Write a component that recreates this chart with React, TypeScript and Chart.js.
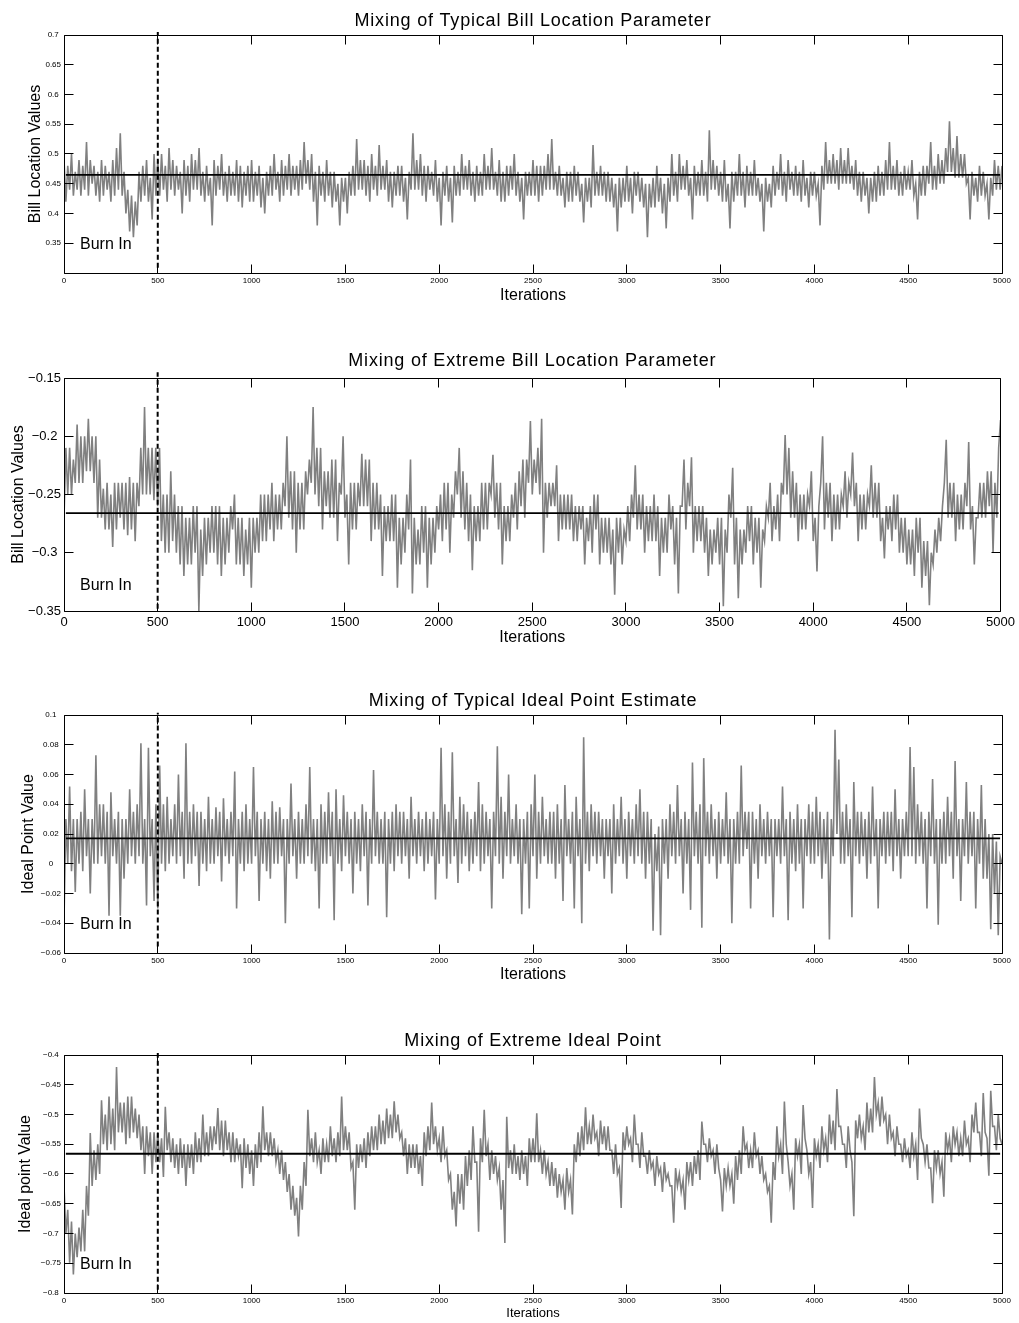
import React, { useEffect, useRef } from "react";
import { Chart, registerables } from "chart.js";

Chart.register(...registerables);

const FONT = '"Liberation Sans", Arial, Helvetica, sans-serif';
Chart.defaults.font.family = FONT;
Chart.defaults.color = "#000";

// ---------------- DATA ----------------
const ITER_STEP = 10; // iterations between stored samples
const X_TICKS = [0, 500, 1000, 1500, 2000, 2500, 3000, 3500, 4000, 4500, 5000];
const BURN_IN = 500;
const MEAN_SPAN = [10, 4990];

const TITLES = [
  "Mixing of Typical Bill Location Parameter",
  "Mixing of Extreme Bill Location Parameter",
  "Mixing of Typical Ideal Point Estimate",
  "Mixing of Extreme Ideal Point",
];
const Y_LABELS = ["Bill Location Values", "Bill Location Values", "Ideal Point Value", "Ideal point Value"];
const X_LABEL = "Iterations";
const BURN_LABEL = "Burn In";

const typicalBill = [
  0.49, 0.42, 0.48, 0.44, 0.50, 0.43, 0.47, 0.44, 0.49, 0.43,
  0.48, 0.44, 0.52, 0.43, 0.49, 0.45, 0.48, 0.43, 0.47, 0.42,
  0.49, 0.43, 0.48, 0.44, 0.47, 0.42, 0.49, 0.43, 0.51, 0.44,
  0.535, 0.43, 0.47, 0.40, 0.44, 0.37, 0.43, 0.36, 0.42, 0.38,
  0.47, 0.42, 0.48, 0.43, 0.49, 0.42, 0.46, 0.39, 0.50, 0.43,
  0.49, 0.43, 0.50, 0.44, 0.48, 0.42, 0.51, 0.44, 0.49, 0.43,
  0.48, 0.44, 0.47, 0.40, 0.49, 0.43, 0.48, 0.42, 0.50, 0.44,
  0.49, 0.44, 0.51, 0.43, 0.47, 0.42, 0.48, 0.43, 0.46, 0.38,
  0.49, 0.43, 0.48, 0.44, 0.50, 0.43, 0.47, 0.42, 0.48, 0.43,
  0.47, 0.43, 0.49, 0.42, 0.48, 0.41, 0.47, 0.43, 0.48, 0.42,
  0.49, 0.42, 0.47, 0.43, 0.48, 0.41, 0.46, 0.40, 0.47, 0.43,
  0.48, 0.43, 0.50, 0.44, 0.47, 0.42, 0.49, 0.43, 0.48, 0.44,
  0.50, 0.43, 0.48, 0.44, 0.48, 0.43, 0.49, 0.44, 0.52, 0.45,
  0.49, 0.44, 0.50, 0.42, 0.47, 0.38, 0.48, 0.43, 0.47, 0.42,
  0.49, 0.43, 0.47, 0.41, 0.47, 0.42, 0.45, 0.38, 0.46, 0.42,
  0.46, 0.40, 0.47, 0.43, 0.48, 0.43, 0.525, 0.44, 0.49, 0.44,
  0.49, 0.43, 0.48, 0.42, 0.50, 0.44, 0.48, 0.43, 0.515, 0.44,
  0.48, 0.44, 0.49, 0.42, 0.47, 0.41, 0.47, 0.43, 0.48, 0.43,
  0.48, 0.42, 0.46, 0.39, 0.47, 0.44, 0.535, 0.44, 0.49, 0.44,
  0.50, 0.43, 0.48, 0.42, 0.48, 0.44, 0.47, 0.43, 0.49, 0.42,
  0.46, 0.38, 0.47, 0.43, 0.48, 0.42, 0.46, 0.385, 0.48, 0.43,
  0.47, 0.43, 0.50, 0.44, 0.48, 0.44, 0.49, 0.43, 0.47, 0.42,
  0.48, 0.43, 0.47, 0.43, 0.50, 0.44, 0.48, 0.44, 0.51, 0.44,
  0.47, 0.43, 0.49, 0.42, 0.47, 0.42, 0.48, 0.43, 0.48, 0.44,
  0.50, 0.43, 0.47, 0.42, 0.46, 0.39, 0.47, 0.43, 0.47, 0.43,
  0.49, 0.43, 0.48, 0.42, 0.48, 0.43, 0.48, 0.44, 0.50, 0.44,
  0.525, 0.44, 0.47, 0.43, 0.48, 0.43, 0.46, 0.41, 0.47, 0.42,
  0.47, 0.42, 0.48, 0.43, 0.47, 0.42, 0.45, 0.385, 0.46, 0.42,
  0.46, 0.41, 0.515, 0.43, 0.47, 0.43, 0.48, 0.43, 0.47, 0.42,
  0.47, 0.42, 0.46, 0.41, 0.45, 0.37, 0.46, 0.41, 0.46, 0.42,
  0.48, 0.42, 0.46, 0.40, 0.47, 0.43, 0.47, 0.42, 0.46, 0.41,
  0.45, 0.36, 0.45, 0.41, 0.46, 0.41, 0.48, 0.42, 0.46, 0.40,
  0.45, 0.375, 0.46, 0.42, 0.50, 0.43, 0.47, 0.42, 0.50, 0.44,
  0.48, 0.44, 0.49, 0.43, 0.46, 0.39, 0.48, 0.43, 0.47, 0.43,
  0.49, 0.43, 0.47, 0.42, 0.54, 0.44, 0.49, 0.44, 0.48, 0.43,
  0.47, 0.42, 0.49, 0.42, 0.45, 0.375, 0.47, 0.42, 0.47, 0.43,
  0.50, 0.43, 0.47, 0.41, 0.48, 0.43, 0.47, 0.43, 0.49, 0.43,
  0.46, 0.42, 0.45, 0.37, 0.46, 0.42, 0.45, 0.41, 0.48, 0.43,
  0.47, 0.44, 0.50, 0.43, 0.47, 0.42, 0.49, 0.44, 0.47, 0.43,
  0.48, 0.43, 0.47, 0.42, 0.49, 0.43, 0.46, 0.41, 0.47, 0.43,
  0.47, 0.43, 0.45, 0.38, 0.48, 0.44, 0.52, 0.45, 0.49, 0.45,
  0.50, 0.45, 0.49, 0.44, 0.51, 0.45, 0.49, 0.45, 0.51, 0.45,
  0.48, 0.44, 0.49, 0.43, 0.47, 0.42, 0.47, 0.43, 0.46, 0.40,
  0.46, 0.42, 0.47, 0.42, 0.48, 0.43, 0.47, 0.43, 0.49, 0.44,
  0.52, 0.44, 0.48, 0.44, 0.49, 0.43, 0.47, 0.43, 0.48, 0.44,
  0.47, 0.44, 0.49, 0.43, 0.45, 0.39, 0.47, 0.43, 0.48, 0.43,
  0.48, 0.45, 0.52, 0.44, 0.48, 0.44, 0.50, 0.45, 0.49, 0.45,
  0.51, 0.47, 0.555, 0.47, 0.51, 0.46, 0.53, 0.46, 0.50, 0.46,
  0.50, 0.45, 0.46, 0.39, 0.47, 0.43, 0.46, 0.42, 0.48, 0.43,
  0.47, 0.43, 0.45, 0.39, 0.46, 0.43, 0.49, 0.44, 0.48, 0.44,
  0.48,
];

const extremeBill = [
  -0.27, -0.21, -0.25, -0.21, -0.25, -0.22, -0.24, -0.19, -0.24, -0.20,
  -0.24, -0.20, -0.23, -0.185, -0.23, -0.20, -0.24, -0.20, -0.27, -0.22,
  -0.27, -0.245, -0.28, -0.24, -0.28, -0.25, -0.295, -0.24, -0.28, -0.24,
  -0.27, -0.24, -0.28, -0.24, -0.285, -0.235, -0.28, -0.24, -0.29, -0.24,
  -0.26, -0.21, -0.25, -0.175, -0.25, -0.21, -0.25, -0.21, -0.255, -0.21,
  -0.26, -0.21, -0.29, -0.25, -0.30, -0.25, -0.30, -0.23, -0.29, -0.25,
  -0.30, -0.26, -0.31, -0.26, -0.32, -0.27, -0.31, -0.27, -0.31, -0.26,
  -0.30, -0.26, -0.35, -0.28, -0.32, -0.27, -0.31, -0.27, -0.30, -0.26,
  -0.30, -0.26, -0.31, -0.26, -0.32, -0.27, -0.31, -0.27, -0.30, -0.26,
  -0.28, -0.25, -0.31, -0.27, -0.31, -0.27, -0.32, -0.28, -0.31, -0.27,
  -0.33, -0.27, -0.30, -0.27, -0.30, -0.25, -0.29, -0.25, -0.29, -0.25,
  -0.28, -0.24, -0.29, -0.25, -0.28, -0.25, -0.28, -0.24, -0.26, -0.20,
  -0.27, -0.23, -0.28, -0.23, -0.30, -0.24, -0.28, -0.24, -0.28, -0.23,
  -0.25, -0.22, -0.24, -0.175, -0.25, -0.21, -0.26, -0.21, -0.28, -0.23,
  -0.26, -0.23, -0.27, -0.22, -0.27, -0.22, -0.29, -0.24, -0.25, -0.20,
  -0.27, -0.25, -0.31, -0.24, -0.28, -0.24, -0.28, -0.24, -0.26, -0.215,
  -0.26, -0.22, -0.26, -0.22, -0.29, -0.24, -0.28, -0.24, -0.28, -0.25,
  -0.32, -0.26, -0.29, -0.26, -0.29, -0.25, -0.29, -0.25, -0.33, -0.27,
  -0.31, -0.27, -0.30, -0.25, -0.28, -0.22, -0.335, -0.27, -0.31, -0.28,
  -0.31, -0.26, -0.30, -0.26, -0.33, -0.27, -0.31, -0.27, -0.30, -0.26,
  -0.28, -0.25, -0.29, -0.24, -0.28, -0.24, -0.30, -0.25, -0.27, -0.23,
  -0.25, -0.21, -0.27, -0.23, -0.28, -0.24, -0.29, -0.25, -0.315, -0.26,
  -0.29, -0.26, -0.29, -0.24, -0.28, -0.24, -0.28, -0.24, -0.25, -0.216,
  -0.27, -0.24, -0.28, -0.24, -0.31, -0.26, -0.29, -0.26, -0.29, -0.25,
  -0.27, -0.24, -0.28, -0.23, -0.26, -0.22, -0.27, -0.22, -0.24, -0.187,
  -0.25, -0.22, -0.24, -0.21, -0.25, -0.185, -0.30, -0.24, -0.27, -0.24,
  -0.26, -0.24, -0.26, -0.225, -0.29, -0.25, -0.28, -0.25, -0.28, -0.25,
  -0.28, -0.25, -0.29, -0.26, -0.29, -0.26, -0.28, -0.26, -0.31, -0.27,
  -0.29, -0.26, -0.30, -0.25, -0.28, -0.25, -0.31, -0.27, -0.30, -0.27,
  -0.30, -0.27, -0.31, -0.28, -0.336, -0.27, -0.30, -0.27, -0.31, -0.28,
  -0.29, -0.26, -0.29, -0.25, -0.27, -0.225, -0.28, -0.25, -0.28, -0.25,
  -0.30, -0.26, -0.29, -0.26, -0.29, -0.25, -0.29, -0.26, -0.32, -0.27,
  -0.30, -0.27, -0.30, -0.25, -0.28, -0.26, -0.31, -0.27, -0.335, -0.26,
  -0.26, -0.22, -0.28, -0.24, -0.26, -0.218, -0.30, -0.26, -0.29, -0.26,
  -0.29, -0.26, -0.30, -0.27, -0.32, -0.28, -0.31, -0.28, -0.30, -0.27,
  -0.31, -0.27, -0.346, -0.28, -0.30, -0.25, -0.27, -0.227, -0.31, -0.27,
  -0.339, -0.28, -0.31, -0.28, -0.30, -0.26, -0.29, -0.26, -0.31, -0.27,
  -0.30, -0.27, -0.33, -0.28, -0.29, -0.26, -0.27, -0.24, -0.29, -0.26,
  -0.28, -0.25, -0.29, -0.24, -0.25, -0.199, -0.25, -0.21, -0.27, -0.23,
  -0.27, -0.24, -0.29, -0.25, -0.28, -0.25, -0.28, -0.25, -0.26, -0.23,
  -0.29, -0.27, -0.316, -0.26, -0.24, -0.20, -0.28, -0.24, -0.27, -0.24,
  -0.29, -0.25, -0.28, -0.25, -0.28, -0.25, -0.26, -0.23, -0.27, -0.24,
  -0.25, -0.214, -0.26, -0.24, -0.29, -0.25, -0.28, -0.25, -0.28, -0.25,
  -0.26, -0.225, -0.27, -0.24, -0.27, -0.24, -0.29, -0.27, -0.305, -0.26,
  -0.28, -0.26, -0.29, -0.25, -0.28, -0.25, -0.30, -0.27, -0.30, -0.27,
  -0.31, -0.28, -0.31, -0.28, -0.32, -0.27, -0.30, -0.27, -0.33, -0.29,
  -0.32, -0.29, -0.345, -0.30, -0.31, -0.28, -0.30, -0.27, -0.29, -0.26,
  -0.24, -0.203, -0.27, -0.24, -0.27, -0.24, -0.29, -0.25, -0.28, -0.25,
  -0.28, -0.24, -0.26, -0.205, -0.28, -0.26, -0.31, -0.27, -0.27, -0.24,
  -0.27, -0.24, -0.27, -0.23, -0.26, -0.23, -0.30, -0.24, -0.27, -0.21,
  -0.186,
];

const typicalIdeal = [
  -0.038, 0.03, 0.0, 0.052, -0.005, 0.03, -0.019, 0.03, 0.0, 0.035,
  -0.005, 0.05, 0.005, 0.03, -0.02, 0.03, 0.0, 0.073, 0.0, 0.04,
  0.005, 0.04, 0.0, 0.035, -0.035, 0.048, 0.005, 0.03, 0.0, 0.035,
  -0.035, 0.03, -0.01, 0.03, 0.0, 0.05, 0.005, 0.035, 0.0, 0.04,
  0.005, 0.081, 0.0, 0.03, -0.028, 0.078, 0.005, 0.03, -0.025, 0.04,
  -0.03, 0.066, 0.0, 0.04, -0.005, 0.045, 0.0, 0.03, 0.005, 0.04,
  0.0, 0.06, 0.005, 0.035, -0.01, 0.081, 0.0, 0.035, 0.0, 0.04,
  0.005, 0.035, -0.015, 0.035, 0.0, 0.03, -0.005, 0.045, 0.0, 0.03,
  0.0, 0.038, 0.005, 0.035, -0.012, 0.044, 0.005, 0.03, 0.0, 0.035,
  0.005, 0.062, -0.03, 0.03, 0.0, 0.035, -0.005, 0.04, 0.0, 0.03,
  0.0, 0.065, 0.005, 0.035, -0.025, 0.03, 0.0, 0.035, -0.005, 0.03,
  -0.01, 0.042, 0.0, 0.035, 0.0, 0.038, 0.005, 0.03, -0.04, 0.03,
  0.0, 0.054, 0.005, 0.03, -0.01, 0.035, 0.0, 0.03, 0.0, 0.04,
  0.005, 0.065, 0.0, 0.03, -0.005, 0.03, -0.03, 0.04, 0.0, 0.035,
  0.0, 0.048, 0.005, 0.035, -0.038, 0.05, 0.0, 0.03, -0.005, 0.046,
  0.005, 0.035, 0.0, 0.03, -0.02, 0.035, 0.0, 0.03, -0.005, 0.04,
  0.005, 0.035, -0.028, 0.03, 0.0, 0.063, 0.005, 0.035, 0.0, 0.03,
  0.0, 0.035, -0.036, 0.03, 0.0, 0.035, -0.005, 0.04, 0.005, 0.035,
  0.0, 0.035, 0.005, 0.03, -0.01, 0.045, 0.005, 0.03, 0.0, 0.035,
  0.005, 0.03, -0.005, 0.035, 0.0, 0.03, 0.005, 0.035, -0.024, 0.03,
  0.0, 0.078, 0.005, 0.04, -0.01, 0.035, 0.0, 0.075, 0.005, 0.03,
  -0.013, 0.045, 0.0, 0.04, 0.005, 0.035, -0.005, 0.03, 0.0, 0.035,
  0.005, 0.055, -0.005, 0.04, 0.0, 0.035, 0.005, 0.03, -0.03, 0.035,
  0.005, 0.079, 0.0, 0.045, -0.01, 0.035, 0.005, 0.06, 0.0, 0.03,
  0.005, 0.04, 0.0, 0.03, -0.034, 0.03, 0.0, 0.035, -0.03, 0.04,
  0.005, 0.06, -0.01, 0.035, 0.0, 0.045, 0.005, 0.03, 0.0, 0.035,
  0.0, 0.035, -0.01, 0.04, 0.0, 0.03, -0.025, 0.053, 0.005, 0.03,
  0.0, 0.035, -0.03, 0.045, 0.005, 0.03, -0.04, 0.085, 0.0, 0.035,
  -0.005, 0.04, 0.005, 0.035, 0.0, 0.035, 0.005, 0.03, -0.01, 0.03,
  0.005, 0.03, -0.02, 0.04, 0.0, 0.03, 0.005, 0.045, 0.0, 0.03,
  -0.01, 0.035, 0.005, 0.03, 0.0, 0.04, 0.005, 0.05, 0.0, 0.035,
  -0.01, 0.035, 0.0, 0.03, -0.045, 0.02, -0.005, 0.025, -0.048, 0.03,
  0.0, 0.03, -0.01, 0.04, 0.005, 0.035, 0.0, 0.053, 0.005, 0.03,
  -0.02, 0.035, 0.0, 0.03, -0.031, 0.068, 0.005, 0.035, 0.0, 0.04,
  -0.043, 0.071, 0.005, 0.035, 0.0, 0.04, 0.005, 0.03, -0.01, 0.035,
  0.0, 0.03, 0.005, 0.048, 0.0, 0.03, -0.04, 0.03, 0.0, 0.035,
  0.0, 0.066, 0.005, 0.035, 0.01, 0.035, -0.03, 0.035, 0.0, 0.03,
  -0.01, 0.04, 0.005, 0.03, 0.0, 0.035, 0.005, 0.03, -0.036, 0.03,
  0.005, 0.03, 0.0, 0.052, 0.005, 0.03, -0.038, 0.035, 0.0, 0.03,
  -0.005, 0.04, 0.0, 0.03, -0.03, 0.03, 0.005, 0.04, 0.0, 0.035,
  0.0, 0.045, 0.005, 0.035, -0.01, 0.03, 0.0, 0.035, -0.051, 0.03,
  0.005, 0.09, 0.02, 0.07, 0.0, 0.035, 0.0, 0.04, 0.005, 0.03,
  -0.036, 0.055, 0.005, 0.035, 0.0, 0.035, 0.005, 0.03, -0.01, 0.035,
  0.0, 0.052, 0.005, 0.03, -0.03, 0.03, 0.005, 0.035, 0.0, 0.035,
  0.005, 0.035, -0.005, 0.05, 0.005, 0.03, -0.01, 0.03, 0.005, 0.035,
  0.005, 0.0785, 0.005, 0.065, 0.0, 0.04, 0.005, 0.035, 0.0, 0.03,
  -0.03, 0.035, 0.005, 0.057, 0.0, 0.03, -0.041, 0.03, 0.0, 0.035,
  0.0, 0.045, 0.005, 0.035, -0.01, 0.069, 0.005, 0.03, -0.025, 0.03,
  0.005, 0.055, 0.0, 0.035, 0.005, 0.035, -0.03, 0.03, 0.0, 0.053,
  -0.01, 0.03, -0.01, 0.02, -0.044, 0.02, -0.02, 0.015, -0.048, 0.005,
  0.0,
];

const extremeIdeal = [
  -0.62, -0.70, -0.66, -0.749, -0.68, -0.769, -0.70, -0.74, -0.69, -0.73,
  -0.66, -0.73, -0.62, -0.67, -0.531, -0.62, -0.56, -0.61, -0.55, -0.60,
  -0.476, -0.55, -0.50, -0.56, -0.47, -0.55, -0.49, -0.56, -0.42, -0.53,
  -0.48, -0.53, -0.48, -0.55, -0.47, -0.54, -0.47, -0.53, -0.49, -0.54,
  -0.50, -0.56, -0.52, -0.60, -0.52, -0.57, -0.53, -0.60, -0.53, -0.58,
  -0.53, -0.58, -0.54, -0.605, -0.487, -0.56, -0.53, -0.58, -0.54, -0.59,
  -0.55, -0.60, -0.54, -0.59, -0.55, -0.62, -0.55, -0.59, -0.55, -0.60,
  -0.53, -0.58, -0.54, -0.58, -0.50, -0.57, -0.53, -0.57, -0.52, -0.56,
  -0.52, -0.55, -0.489, -0.56, -0.51, -0.57, -0.51, -0.56, -0.53, -0.58,
  -0.53, -0.58, -0.54, -0.57, -0.55, -0.624, -0.54, -0.59, -0.55, -0.60,
  -0.56, -0.62, -0.55, -0.59, -0.53, -0.58, -0.486, -0.56, -0.53, -0.57,
  -0.53, -0.57, -0.54, -0.58, -0.56, -0.60, -0.56, -0.61, -0.58, -0.63,
  -0.60, -0.66, -0.62, -0.67, -0.64, -0.705, -0.62, -0.66, -0.58, -0.62,
  -0.492, -0.57, -0.54, -0.58, -0.53, -0.58, -0.56, -0.60, -0.54, -0.58,
  -0.55, -0.58, -0.52, -0.57, -0.54, -0.58, -0.53, -0.57, -0.47, -0.56,
  -0.52, -0.56, -0.53, -0.59, -0.58, -0.66, -0.55, -0.59, -0.55, -0.58,
  -0.54, -0.59, -0.53, -0.57, -0.52, -0.56, -0.52, -0.56, -0.50, -0.55,
  -0.51, -0.55, -0.49, -0.54, -0.50, -0.54, -0.478, -0.53, -0.50, -0.54,
  -0.53, -0.57, -0.54, -0.60, -0.55, -0.59, -0.55, -0.59, -0.55, -0.60,
  -0.57, -0.62, -0.53, -0.57, -0.52, -0.56, -0.48, -0.55, -0.52, -0.56,
  -0.54, -0.58, -0.52, -0.57, -0.56, -0.61, -0.60, -0.66, -0.63, -0.688,
  -0.60, -0.65, -0.60, -0.66, -0.57, -0.62, -0.56, -0.61, -0.52, -0.58,
  -0.58, -0.697, -0.54, -0.58, -0.492, -0.57, -0.55, -0.61, -0.56, -0.60,
  -0.57, -0.61, -0.59, -0.66, -0.61, -0.716, -0.504, -0.59, -0.56, -0.60,
  -0.55, -0.60, -0.57, -0.61, -0.56, -0.60, -0.57, -0.62, -0.54, -0.58,
  -0.54, -0.58, -0.498, -0.58, -0.56, -0.60, -0.56, -0.60, -0.58, -0.62,
  -0.58, -0.62, -0.59, -0.64, -0.60, -0.63, -0.61, -0.66, -0.59, -0.63,
  -0.61, -0.668, -0.55, -0.58, -0.53, -0.57, -0.52, -0.56, -0.488, -0.55,
  -0.52, -0.55, -0.50, -0.54, -0.53, -0.57, -0.51, -0.55, -0.52, -0.56,
  -0.52, -0.56, -0.56, -0.60, -0.55, -0.60, -0.59, -0.657, -0.53, -0.56,
  -0.52, -0.55, -0.54, -0.58, -0.50, -0.55, -0.55, -0.59, -0.53, -0.57,
  -0.57, -0.60, -0.56, -0.59, -0.58, -0.62, -0.57, -0.60, -0.59, -0.63,
  -0.58, -0.61, -0.60, -0.62, -0.62, -0.682, -0.59, -0.62, -0.60, -0.63,
  -0.61, -0.66, -0.58, -0.61, -0.58, -0.62, -0.57, -0.60, -0.56, -0.61,
  -0.512, -0.55, -0.55, -0.58, -0.54, -0.57, -0.56, -0.60, -0.55, -0.59,
  -0.61, -0.663, -0.59, -0.62, -0.59, -0.62, -0.60, -0.65, -0.57, -0.61,
  -0.56, -0.60, -0.52, -0.56, -0.55, -0.59, -0.56, -0.59, -0.53, -0.57,
  -0.56, -0.60, -0.57, -0.61, -0.60, -0.63, -0.62, -0.682, -0.58, -0.61,
  -0.52, -0.57, -0.55, -0.60, -0.478, -0.55, -0.58, -0.62, -0.60, -0.66,
  -0.54, -0.57, -0.55, -0.60, -0.484, -0.54, -0.56, -0.60, -0.58, -0.657,
  -0.54, -0.57, -0.55, -0.59, -0.52, -0.56, -0.54, -0.58, -0.50, -0.55,
  -0.51, -0.56, -0.457, -0.52, -0.52, -0.55, -0.55, -0.59, -0.52, -0.56,
  -0.58, -0.671, -0.51, -0.54, -0.50, -0.54, -0.52, -0.56, -0.48, -0.53,
  -0.49, -0.53, -0.437, -0.50, -0.48, -0.52, -0.47, -0.51, -0.50, -0.55,
  -0.50, -0.54, -0.53, -0.57, -0.52, -0.55, -0.55, -0.58, -0.54, -0.57,
  -0.56, -0.59, -0.53, -0.57, -0.55, -0.61, -0.49, -0.54, -0.55, -0.58,
  -0.55, -0.59, -0.59, -0.649, -0.56, -0.59, -0.56, -0.60, -0.58, -0.638,
  -0.53, -0.56, -0.54, -0.58, -0.52, -0.55, -0.53, -0.57, -0.54, -0.57,
  -0.51, -0.55, -0.54, -0.58, -0.50, -0.53, -0.48, -0.53, -0.53, -0.57,
  -0.464, -0.53, -0.54, -0.603, -0.46, -0.52, -0.52, -0.56, -0.50, -0.54,
  -0.55,
];

const MEANS = [0.465, -0.266, 0.017, -0.566];

const yTicksTypicalBill = [0.3, 0.35, 0.4, 0.45, 0.5, 0.55, 0.6, 0.65, 0.7];
const yTicksExtremeBill = [-0.35, -0.3, -0.25, -0.2, -0.15];
const yTicksTypicalIdeal = [-0.06, -0.04, -0.02, 0, 0.02, 0.04, 0.06, 0.08, 0.1];
const yTicksExtremeIdeal = [-0.8, -0.75, -0.7, -0.65, -0.6, -0.55, -0.5, -0.45, -0.4];
const HIDDEN_Y_LABELS = [[0.3], [], [], []];

// ---------------- LAYOUT ----------------
type PanelSpec = {
  title: string;
  yLabel: string;
  values: number[];
  mean: number;
  yTicks: number[];
  hidden: number[];
  burnSpan: [number, number];
  top: number;
  height: number;
  plotTop: number;
  plotBottom: number;
  tickFont: number;
  xTickPad: number;
  xLabelSize: number;
  titleGap: number;
  xLabelGap: number;
  yLabelX: number;
  burnGap: number;
};

const PLOT_LEFT = 64;
const PLOT_RIGHT = 1002;
const PAGE_W = 1019;

const PANELS: PanelSpec[] = [
  {
    title: TITLES[0], yLabel: Y_LABELS[0], values: typicalBill, mean: MEANS[0],
    yTicks: yTicksTypicalBill, hidden: HIDDEN_Y_LABELS[0], burnSpan: [0.309, 0.705],
    top: 0, height: 340, plotTop: 35, plotBottom: 273, tickFont: 8, xTickPad: 3,
    xLabelSize: 16, titleGap: 9, xLabelGap: 27, yLabelX: 40, burnGap: 24,
  },
  {
    title: TITLES[1], yLabel: Y_LABELS[1], values: extremeBill, mean: MEANS[1],
    yTicks: yTicksExtremeBill, hidden: HIDDEN_Y_LABELS[1], burnSpan: [-0.348, -0.145],
    top: 340, height: 340, plotTop: 378, plotBottom: 611, tickFont: 13, xTickPad: 4,
    xLabelSize: 16, titleGap: 12, xLabelGap: 31, yLabelX: 23, burnGap: 21,
  },
  {
    title: TITLES[2], yLabel: Y_LABELS[2], values: typicalIdeal, mean: MEANS[2],
    yTicks: yTicksTypicalIdeal, hidden: HIDDEN_Y_LABELS[2], burnSpan: [-0.0556, 0.1015],
    top: 680, height: 340, plotTop: 715, plotBottom: 953, tickFont: 8, xTickPad: 3,
    xLabelSize: 16, titleGap: 9, xLabelGap: 26, yLabelX: 33, burnGap: 24,
  },
  {
    title: TITLES[3], yLabel: Y_LABELS[3], values: extremeIdeal, mean: MEANS[3],
    yTicks: yTicksExtremeIdeal, hidden: HIDDEN_Y_LABELS[3], burnSpan: [-0.7944, -0.3966],
    top: 1020, height: 303, plotTop: 1055, plotBottom: 1293, tickFont: 8, xTickPad: 3,
    xLabelSize: 13, titleGap: 9, xLabelGap: 24, yLabelX: 30, burnGap: 24,
  },
];

function fmtY(v: number): string {
  const s = String(Number(v.toFixed(3)));
  return s.replace("-", "\u2212");
}

function TracePanel({ spec }: { spec: PanelSpec }) {
  const ref = useRef<HTMLCanvasElement | null>(null);

  useEffect(() => {
    const canvas = ref.current;
    if (!canvas) return;
    const yMin = spec.yTicks[0];
    const yMax = spec.yTicks[spec.yTicks.length - 1];
    const trace = spec.values.map((v, i) => ({ x: i * ITER_STEP, y: v }));

    const framePlugin = {
      id: "matlabFrame" + spec.top,
      afterDraw(chart: any) {
        const { ctx, chartArea: a, scales } = chart;
        const xs = scales.x;
        const ys = scales.y;
        ctx.save();
        ctx.strokeStyle = "#000";
        ctx.lineWidth = 1;
        const L = Math.floor(a.left) + 0.5;
        const R = Math.floor(a.right) + 0.5;
        const T = Math.floor(a.top) + 0.5;
        const B = Math.floor(a.bottom) + 0.5;
        ctx.beginPath();
        ctx.rect(L, T, R - L, B - T);
        ctx.stroke();
        const TL = 9;
        ctx.beginPath();
        for (const t of X_TICKS) {
          const px = Math.floor(xs.getPixelForValue(t)) + 0.5;
          ctx.moveTo(px, B);
          ctx.lineTo(px, B - TL);
          ctx.moveTo(px, T);
          ctx.lineTo(px, T + TL);
        }
        for (const t of spec.yTicks) {
          const py = Math.floor(ys.getPixelForValue(t)) + 0.5;
          ctx.moveTo(L, py);
          ctx.lineTo(L + TL, py);
          ctx.moveTo(R, py);
          ctx.lineTo(R - TL, py);
        }
        ctx.stroke();

        const cx = (a.left + a.right) / 2;
        ctx.fillStyle = "#000";
        ctx.textBaseline = "alphabetic";

        // title
        ctx.font = `18px ${FONT}`;
        try { (ctx as any).letterSpacing = "0.8px"; } catch (e) {}
        ctx.textAlign = "center";
        ctx.fillText(spec.title, cx, a.top - spec.titleGap);
        try { (ctx as any).letterSpacing = "0px"; } catch (e) {}

        // x label
        ctx.font = `${spec.xLabelSize}px ${FONT}`;
        ctx.fillText(X_LABEL, cx, a.bottom + spec.xLabelGap);

        // y label
        ctx.save();
        ctx.font = `16px ${FONT}`;
        ctx.translate(spec.yLabelX, (a.top + a.bottom) / 2);
        ctx.rotate(-Math.PI / 2);
        ctx.textAlign = "center";
        ctx.fillText(spec.yLabel, 0, 0);
        ctx.restore();

        // burn in
        ctx.font = `16px ${FONT}`;
        ctx.textAlign = "left";
        ctx.fillText(BURN_LABEL, a.left + 16, a.bottom - spec.burnGap);
        ctx.restore();
      },
    };

    const chart = new Chart(canvas, {
      type: "line",
      data: {
        datasets: [
          {
            data: [
              { x: MEAN_SPAN[0], y: spec.mean },
              { x: MEAN_SPAN[1], y: spec.mean },
            ],
            borderColor: "#000",
            borderWidth: 1.8,
            pointRadius: 0,
            order: 0,
          },
          {
            data: [
              { x: BURN_IN, y: spec.burnSpan[0] },
              { x: BURN_IN, y: spec.burnSpan[1] },
            ],
            borderColor: "#000",
            borderWidth: 2,
            borderDash: [5, 3],
            pointRadius: 0,
            order: 1,
            clip: false,
          } as any,
          {
            data: trace,
            borderColor: "#808080",
            borderWidth: 1.6,
            pointRadius: 0,
            tension: 0,
            order: 2,
          },
        ],
      },
      options: {
        animation: false,
        responsive: false,
        devicePixelRatio: 1,
        events: [],
        layout: {
          padding: {
            left: 0,
            right: PAGE_W - PLOT_RIGHT,
            top: spec.plotTop - spec.top,
            bottom: 0,
          },
        },
        plugins: {
          legend: { display: false },
          title: { display: false },
          tooltip: { enabled: false },
        },
        scales: {
          x: {
            type: "linear",
            min: X_TICKS[0],
            max: X_TICKS[X_TICKS.length - 1],
            afterBuildTicks: (s: any) => {
              s.ticks = X_TICKS.map((v) => ({ value: v }));
            },
            afterFit: (s: any) => {
              s.height = spec.top + spec.height - spec.plotBottom;
            },
            grid: { display: false, drawTicks: false },
            border: { display: false },
            ticks: {
              color: "#000",
              font: { size: spec.tickFont, family: FONT },
              padding: spec.xTickPad,
              maxRotation: 0,
              minRotation: 0,
              autoSkip: false,
              callback: (v: any) => String(v),
            },
          },
          y: {
            type: "linear",
            min: yMin,
            max: yMax,
            afterBuildTicks: (s: any) => {
              s.ticks = spec.yTicks.map((v) => ({ value: v }));
            },
            afterFit: (s: any) => {
              s.width = PLOT_LEFT;
            },
            grid: { display: false, drawTicks: false },
            border: { display: false },
            ticks: {
              color: "#000",
              font: { size: spec.tickFont, family: FONT },
              padding: 3,
              crossAlign: "center",
              autoSkip: false,
              callback: (v: any) => {
                const n = Number(v);
                if (spec.hidden.some((h) => Math.abs(h - n) < 1e-9)) return "";
                return fmtY(n);
              },
            },
          },
        },
      },
      plugins: [framePlugin],
    } as any);

    return () => chart.destroy();
  }, [spec]);

  return (
    <canvas
      ref={ref}
      width={PAGE_W}
      height={spec.height}
      style={{ position: "absolute", left: 0, top: spec.top, width: PAGE_W, height: spec.height }}
    />
  );
}

export default function App() {
  return (
    <div style={{ position: "absolute", left: 0, top: 0, width: PAGE_W, height: 1323, background: "#fff" }}>
      {PANELS.map((p) => (
        <TracePanel key={p.top} spec={p} />
      ))}
    </div>
  );
}
